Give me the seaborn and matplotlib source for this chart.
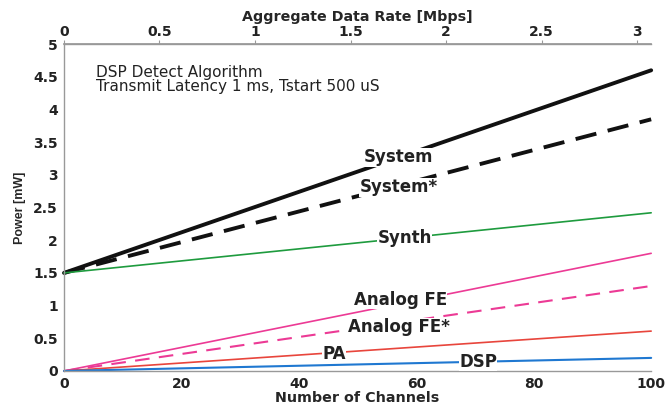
import matplotlib
matplotlib.use("Agg")
import matplotlib.pyplot as plt
import seaborn as sns
import pandas as pd

sns.set_theme(style="white")
plt.rcParams['font.family'] = ['DejaVu Sans']

channels = [0, 100]
system = [1.5, 4.60]
system_star = [1.5, 3.85]
synth = [1.5, 2.42]
analog_fe = [0.0, 1.80]
analog_fe_star = [0.0, 1.30]
pa = [0.0, 0.61]
dsp = [0.0, 0.20]

series_names = ["System", "System*", "Synth", "Analog FE", "Analog FE*", "PA", "DSP"]
series_vals = [system, system_star, synth, analog_fe, analog_fe_star, pa, dsp]
colors = ["#111111", "#111111", "#1e9b3e", "#ec3a95", "#ec3a95", "#e8453c", "#1f78d1"]
widths = [2.8, 2.8, 1.2, 1.2, 1.5, 1.2, 1.5]
styles = ["-", (0, (5.5, 3)), "-", "-", (0, (7, 4.5)), "-", "-"]
label_pos = [(57, 3.27), (57, 2.81), (58, 2.03), (57.3, 1.09), (57, 0.67), (46, 0.26), (70.5, 0.14)]

mbps_per_channel = 3.0 / 97.6

fig = plt.figure(figsize=(6.65, 4.05), dpi=100)
ax = fig.add_axes([0.0962, 0.084, 0.883, 0.807])

for name, vals, c, lw, ls in zip(series_names, series_vals, colors, widths, styles):
    df = pd.DataFrame({"x": channels, "y": vals})
    sns.lineplot(data=df, x="x", y="y", ax=ax, color=c, linewidth=lw, linestyle=ls,
                 clip_on=False, zorder=2)

for name, (lx, ly) in zip(series_names, label_pos):
    ax.text(lx, ly, name, fontsize=12, fontweight="bold", ha="center", va="center",
            color="#222222", zorder=5,
            bbox=dict(facecolor="white", edgecolor="none", pad=0.3))

ax.text(5.5, 4.68, "DSP Detect Algorithm\nTransmit Latency 1 ms, Tstart 500 uS",
        fontsize=11, ha="left", va="top", color="#222222", linespacing=0.95)

ax.set_xlim(0, 100)
ax.set_ylim(0, 5)
ax.set_xticks([0, 20, 40, 60, 80, 100])
ax.set_yticks([0, 0.5, 1, 1.5, 2, 2.5, 3, 3.5, 4, 4.5, 5])
ax.set_yticklabels(["0", "0.5", "1", "1.5", "2", "2.5", "3", "3.5", "4", "4.5", "5"])
ax.set_xlabel("Number of Channels", fontsize=10.3, fontweight="bold", labelpad=0)
ax.set_ylabel("Power [mW]", fontsize=9, fontweight="bold", labelpad=5,
              family=["Liberation Sans", "DejaVu Sans"])
for lab in ax.get_xticklabels() + ax.get_yticklabels():
    lab.set_fontweight("bold")
    lab.set_fontsize(10)
ax.tick_params(axis="both", which="both", direction="out", length=3, width=0.8,
               color="#999999", pad=1.5, labelcolor="#222222")

for side in ["left", "bottom", "top"]:
    ax.spines[side].set_color("#999999")
    ax.spines[side].set_linewidth(1.0)
ax.spines["right"].set_visible(False)

sec = ax.secondary_xaxis("top", functions=(lambda x: x * mbps_per_channel,
                                            lambda m: m / mbps_per_channel))
sec.set_xticks([0, 0.5, 1, 1.5, 2, 2.5, 3])
sec.set_xticklabels(["0", "0.5", "1", "1.5", "2", "2.5", "3"])
sec.set_xlabel("Aggregate Data Rate [Mbps]", fontsize=10.3, fontweight="bold", labelpad=3)
for lab in sec.get_xticklabels():
    lab.set_fontweight("bold")
    lab.set_fontsize(10)
sec.tick_params(direction="out", length=3, width=0.8, color="#999999", pad=0.5,
                labelcolor="#222222")
sec.spines["top"].set_color("#999999")

fig.savefig("out.png", dpi=100)
